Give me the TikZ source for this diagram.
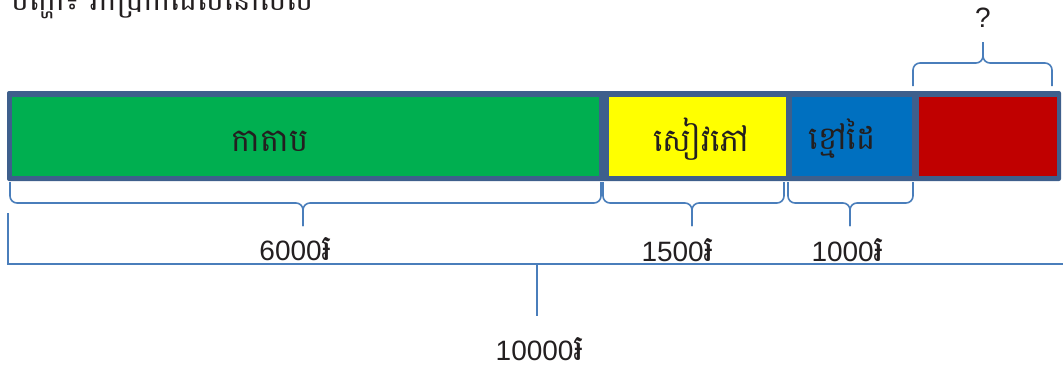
\documentclass[tikz,border=0pt]{standalone}
\usepackage{fontspec}
\setmainfont{Liberation Sans}
\newfontfamily\khmer[Script=Khmer]{Battambang}
\definecolor{barborder}{HTML}{3E5F8C}
\definecolor{bargreen}{HTML}{00AF50}
\definecolor{baryellow}{HTML}{FFFF00}
\definecolor{barblue}{HTML}{0070C0}
\definecolor{barred}{HTML}{C00000}
\definecolor{bracecol}{HTML}{4A7EBB}
\definecolor{txt}{HTML}{231F20}
\newcommand{\riel}{{\khmer\fontsize{36}{38}\selectfont ៛}}
\tikzset{
  seg/.style={draw=none,inner sep=0pt,minimum height=79pt,anchor=center},
  boxtext/.style={inner sep=0pt,text=txt,font=\khmer\fontsize{32}{36}\selectfont},
  amount/.style={inner sep=0pt,text=txt,font=\fontsize{28}{32}\selectfont},
  bracestyle/.style={draw=bracecol,line width=1.6pt,rounded corners=7pt},
  bracketstyle/.style={draw=bracecol,line width=1.5pt}
}
\begin{document}
\begin{tikzpicture}[x=1pt,y=-1pt]
\useasboundingbox (0,0) rectangle (1063,378);
\clip (0,0) rectangle (1063,378);
% title (cut off at top, as in the reference)
\node[inner sep=0pt,anchor=base west,text=txt,font=\khmer\fontsize{30}{34}\selectfont] (title) at (11,10) {បញ្ហា៖ រកប្រាក់ដែលនៅសល់};
% bar frame
\path[fill=barborder,rounded corners=2pt] (7,91) rectangle (1061,181);
\node[seg,fill=bargreen,minimum width=587pt] (green) at (305.5,136) {};
\node[seg,fill=baryellow,minimum width=177pt] (yellow) at (697.5,136) {};
\node[seg,fill=barblue,minimum width=120pt] (blue) at (852,136) {};
\node[seg,fill=barred,minimum width=138pt] (red) at (988,136) {};
\node[boxtext] (tgreen) at (270,141) {កាតាប};
\node[boxtext] (tyellow) at (701,139) {សៀវភៅ};
\node[boxtext] (tblue) at (842,139) {ខ្មៅដៃ};
% brace above red
\coordinate (ra) at (913,86);
\coordinate (rb) at (1052,86);
\coordinate (rt) at (983,42);
\draw[bracestyle] (ra) |- (rt |- 0,63) -- (rt);
\draw[bracestyle] (rb) |- (rt |- 0,63) -- (rt);
\node[amount] (q) at (983,18) {?};
% braces below
\coordinate (ga) at (10,182);
\coordinate (gb) at (601,182);
\coordinate (gt) at (303,226);
\draw[bracestyle] (ga) |- (gt |- 0,203) -- (gt);
\draw[bracestyle] (gb) |- (gt |- 0,203) -- (gt);
\coordinate (ya) at (603,182);
\coordinate (yb) at (784,182);
\coordinate (yt) at (692,226);
\draw[bracestyle] (ya) |- (yt |- 0,203) -- (yt);
\draw[bracestyle] (yb) |- (yt |- 0,203) -- (yt);
\coordinate (ba) at (788,182);
\coordinate (bb) at (913,182);
\coordinate (bt) at (850,226);
\draw[bracestyle] (ba) |- (bt |- 0,203) -- (bt);
\draw[bracestyle] (bb) |- (bt |- 0,203) -- (bt);
\node[amount,anchor=base] (lgreen) at (296,260) {6000\riel};
\node[amount,anchor=base] (lyellow) at (678,261) {1500\riel};
\node[amount,anchor=base] (lblue) at (848,261) {1000\riel};
% total bracket
\coordinate (ta) at (8,213);
\coordinate (tc) at (8,264);
\coordinate (tb) at (1070,264);
\coordinate (tm) at (537,264);
\coordinate (tt) at (537,316);
\draw[bracketstyle] (ta) -- (tc) -- (tb);
\draw[bracketstyle] (tm) -- (tt);
\node[amount,anchor=base] (ltotal) at (540,360) {10000\riel};
\end{tikzpicture}
\end{document}
